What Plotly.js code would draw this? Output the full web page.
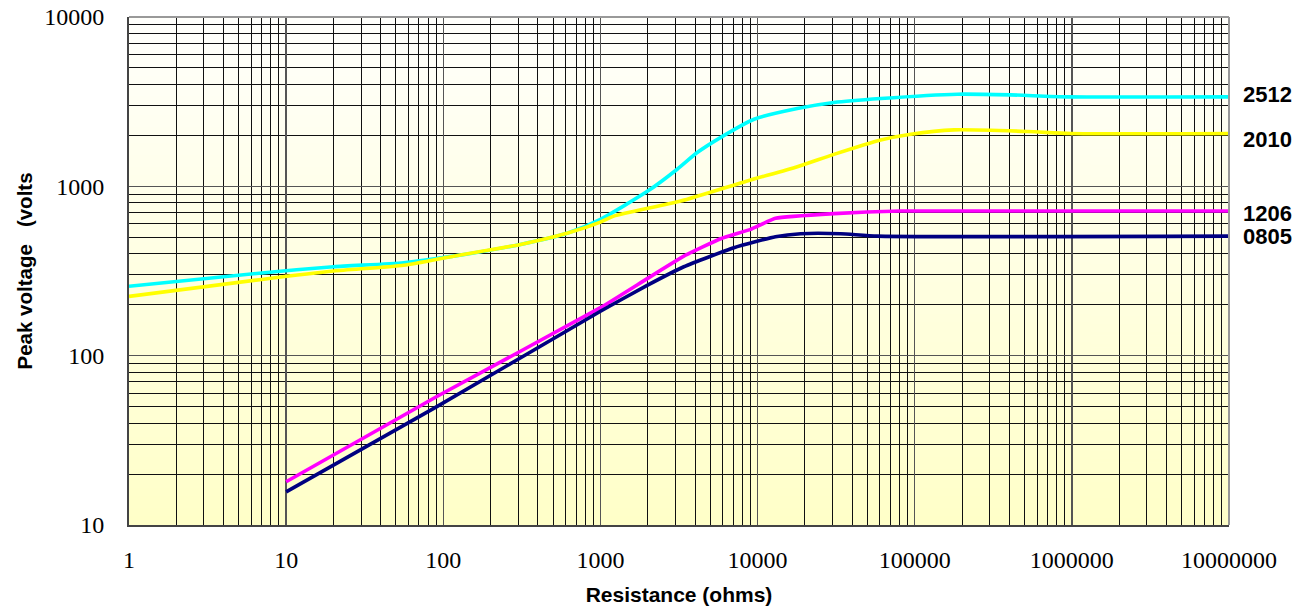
<!DOCTYPE html>
<html>
<head>
<meta charset="utf-8">
<script src="https://cdn.plot.ly/plotly-3.0.1.min.js"></script>
<style>html,body{margin:0;padding:0;background:#fff;}#chart{width:1310px;height:610px;}</style>
</head>
<body>
<div id="chart"></div>
<script>
// Resistance (ohms) and peak voltage (volts)
const r2512 = [1, 7, 20, 56, 116, 310, 620, 1000, 2000, 3080, 4130, 5800, 9500, 17900, 30600, 60700, 187000, 408000, 938000, 10000000];
const v2512 = [257, 308, 335, 354, 387, 454, 530, 638, 937, 1262, 1583, 1940, 2490, 2880, 3125, 3300, 3500, 3467, 3376, 3376];

const r2010 = [1, 7, 20, 56, 116, 310, 620, 1000, 1216, 3235, 8590, 17900, 30600, 60700, 94400, 178000, 522000, 986000, 10000000];
const v2010 = [224, 282, 316, 342, 387, 454, 530, 615, 667, 818, 1075, 1306, 1545, 1879, 2033, 2155, 2108, 2051, 2051];

const r1206 = [10, 91, 1000, 1983, 3394, 5810, 9020, 13000, 30600, 81400, 10000000];
const v1206 = [18.0, 57.4, 192, 285, 387, 490, 557, 647, 690, 715, 715];

const r0805 = [10, 91, 1000, 1983, 3394, 7070, 13000, 18800, 33800, 57800, 10000000];
const v0805 = [15.7, 50, 183, 260, 335, 434, 504, 525, 525, 508, 508];

const seriesNames = ['2512', '2010', '1206', '0805'];
const seriesColors = ['#00ffff', '#ffff00', '#ff00ff', '#000080'];
const labelShift = [2, -6, -2, 0];

const xTickVals = [1, 10, 100, 1000, 10000, 100000, 1000000, 10000000];
const xTickText = ['1', '10', '100', '1000', '10000', '100000', '1000000', '10000000'];
const yTickVals = [10, 100, 1000, 10000];
const yTickText = ['10', '100', '1000', '10000'];

// gradient background image
const cv = document.createElement('canvas');
cv.width = 4; cv.height = 256;
const ctx = cv.getContext('2d');
const g = ctx.createLinearGradient(0, 0, 0, 256);
g.addColorStop(0, '#fffffc');
g.addColorStop(1, '#ffffc8');
ctx.fillStyle = g;
ctx.fillRect(0, 0, 4, 256);
const bgURL = cv.toDataURL('image/png');

const xs = [r2512, r2010, r1206, r0805];
const ys = [v2512, v2010, v1206, v0805];
const smooth = [0.6, 0.6, 0.35, 0.5];

const traces = seriesNames.map((n, i) => ({
  x: xs[i], y: ys[i], type: 'scatter', mode: 'lines', name: n,
  line: {color: seriesColors[i], width: 3.6, shape: 'spline', smoothing: smooth[i]},
  hoverinfo: 'x+y+name'
}));

const annotations = seriesNames.map((n, i) => ({
  xref: 'paper', yref: 'y', x: 1.011, xanchor: 'left',
  y: Math.log10(ys[i][ys[i].length - 1]), yanchor: 'middle', yshift: labelShift[i],
  text: '<b>' + n + '</b>', showarrow: false,
  font: {family: 'Liberation Sans, Arial, sans-serif', size: 22, color: '#000'}
}));

const gridMajor = '#555555';
const gridMinor = '#111111';

const layout = {
  width: 1310, height: 610,
  margin: {l: 129, r: 81, t: 17, b: 85},
  paper_bgcolor: '#ffffff',
  plot_bgcolor: 'rgba(0,0,0,0)',
  showlegend: false,
  font: {family: 'Liberation Serif, Times New Roman, serif', size: 24, color: '#000'},
  xaxis: {
    type: 'log', range: [0, 7], tickvals: xTickVals, ticktext: xTickText,
    showgrid: true, gridcolor: gridMajor, gridwidth: 1.3,
    minor: {dtick: 'D1', showgrid: true, gridcolor: gridMinor, gridwidth: 1, ticks: ''},
    ticks: '', ticklabelstandoff: 12,
    showline: true, linecolor: '#444', linewidth: 2, zeroline: false,
    tickfont: {family: 'Liberation Serif, Times New Roman, serif', size: 24},
    title: {text: '<b>Resistance (ohms)</b>', standoff: 16,
      font: {family: 'Liberation Sans, Arial, sans-serif', size: 21, color: '#000'}}
  },
  yaxis: {
    type: 'log', range: [1, 4], tickvals: yTickVals, ticktext: yTickText,
    showgrid: true, gridcolor: gridMajor, gridwidth: 1.3,
    minor: {dtick: 'D1', showgrid: true, gridcolor: gridMinor, gridwidth: 1, ticks: ''},
    ticks: '', ticklabelstandoff: 18,
    showline: true, linecolor: '#444', linewidth: 2, zeroline: false,
    tickfont: {family: 'Liberation Serif, Times New Roman, serif', size: 24},
    title: {text: '<b>Peak voltage\u00a0\u00a0\u00a0(volts</b>', standoff: 6,
      font: {family: 'Liberation Sans, Arial, sans-serif', size: 20.5, color: '#000'}}
  },
  images: [{source: bgURL, xref: 'paper', yref: 'paper', x: 0, y: 1, sizex: 1, sizey: 1,
    sizing: 'stretch', xanchor: 'left', yanchor: 'top', layer: 'below'}],
  shapes: [
    {type: 'line', xref: 'paper', yref: 'paper', x0: 0, x1: 1, y0: 1, y1: 1, line: {color: '#999', width: 2}},
    {type: 'line', xref: 'paper', yref: 'paper', x0: 1, x1: 1, y0: 0, y1: 1, line: {color: '#999', width: 2}}
  ],
  annotations: annotations
};

Plotly.newPlot('chart', traces, layout, {displayModeBar: false, staticPlot: true});
</script>
</body>
</html>
